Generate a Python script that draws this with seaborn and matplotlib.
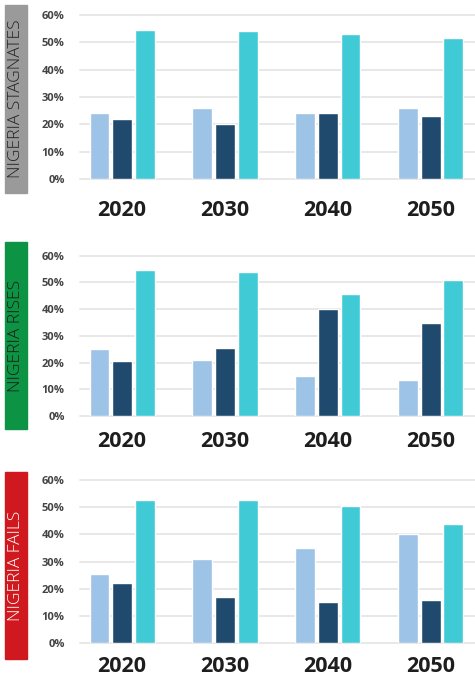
import pandas as pd
import matplotlib
matplotlib.use("Agg")
import matplotlib.pyplot as plt
import seaborn as sns
from matplotlib.patches import Rectangle

years = ["2020", "2030", "2040", "2050"]
series = ["Series 1", "Series 2", "Series 3"]
scenarios = ["NIGERIA STAGNATES", "NIGERIA RISES", "NIGERIA FAILS"]

# values in %, one list per series, per scenario
stagnates_1 = [24, 26, 24, 26]
stagnates_2 = [22, 20, 24, 23]
stagnates_3 = [54.5, 54, 53, 51.5]

rises_1 = [25, 21, 15, 13.5]
rises_2 = [20.5, 25.5, 40, 35]
rises_3 = [54.5, 54, 45.5, 51]

fails_1 = [25.5, 31, 35, 40]
fails_2 = [22, 17, 15, 16]
fails_3 = [52.5, 52.5, 50.5, 44]

yticks = [0, 10, 20, 30, 40, 50, 60]
ytick_labels = ["0%", "10%", "20%", "30%", "40%", "50%", "60%"]

palette = ["#9dc3e6", "#1f4a6d", "#3fcad6"]
box_colors = ["#9a9a9a", "#0c9444", "#d0191f"]
box_text = ["#222222", "#1a1a1a", "#ffffff"]

data = {
    "NIGERIA STAGNATES": [stagnates_1, stagnates_2, stagnates_3],
    "NIGERIA RISES": [rises_1, rises_2, rises_3],
    "NIGERIA FAILS": [fails_1, fails_2, fails_3],
}

sns.set_theme(style="white")
plt.rcParams['font.family'] = ['Open Sans', 'DejaVu Sans']

fig = plt.figure(figsize=(4.75, 6.79), dpi=100)

# axes boxes in figure fractions (left, bottom, width, height)
axes_pos = [
    (0.1684, 0.7364, 0.8316, 0.2415),
    (0.1684, 0.3873, 0.8316, 0.2361),
    (0.1684, 0.0526, 0.8316, 0.2405),
]
year_pad = [15, 11, 9.5]
# label boxes in pixels (y top, y bottom)
box_pos = [(5, 193), (242, 429), (472, 659)]

W, H = 475, 679

for i, name in enumerate(scenarios):
    rows = []
    for s, vals in zip(series, data[name]):
        for y, v in zip(years, vals):
            rows.append({"year": y, "series": s, "value": v})
    df = pd.DataFrame(rows)

    ax = fig.add_axes(axes_pos[i])
    sns.barplot(data=df, x="year", y="value", hue="series", hue_order=series,
                palette=palette, width=0.66, gap=0.12, saturation=1,
                legend=False, ax=ax, zorder=3)
    ax.set_ylim(0, 60)
    ax.set_xlim(-0.41, 3.43)
    ax.set_yticks(yticks)
    ax.set_yticklabels(ytick_labels, fontsize=8, fontweight="bold", color="#444444")
    ax.tick_params(axis="y", length=0, pad=11)
    ax.tick_params(axis="x", length=0, pad=year_pad[i], labelsize=15.5,
                   labelcolor="#1e1e1e")
    for lab in ax.get_xticklabels():
        lab.set_fontweight("bold")
    ax.set_xlabel("")
    ax.set_ylabel("")
    ax.grid(axis="y", color="#e8e8e8", linewidth=1.4, zorder=0)
    ax.set_axisbelow(True)
    for sp in ax.spines.values():
        sp.set_visible(False)
    for ln in ax.get_ygridlines():
        ln.set_clip_on(False)

    # coloured scenario box
    top, bot = box_pos[i]
    fig.patches.append(Rectangle((5 / W, 1 - bot / H), 22 / W, (bot - top) / H,
                                 transform=fig.transFigure, color=box_colors[i]))
    fig.text(16 / W, 1 - (top + bot) / 2 / H, name, rotation=90, ha="center",
             va="center", fontsize=12.5, fontweight="light", color=box_text[i])

fig.savefig("out.png", dpi=100)
